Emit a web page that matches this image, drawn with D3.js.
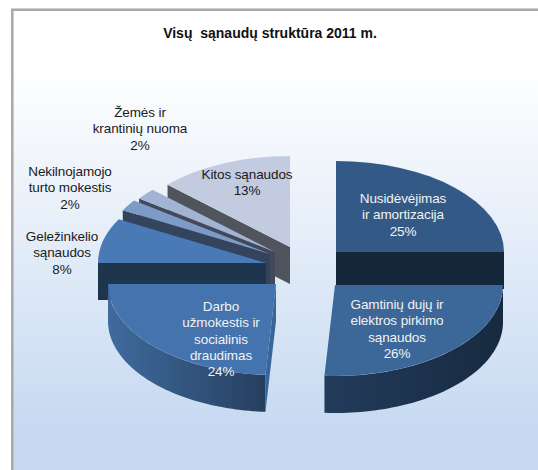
<!DOCTYPE html>
<html><head><meta charset="utf-8">
<script src="https://d3js.org/d3.v7.min.js"></script>
<style>html,body{margin:0;padding:0;background:#fff}svg{display:block}text{font-family:"Liberation Sans",Arial,sans-serif}</style>
</head><body><div id="c"></div>
<script>
const title = "Visų\u00a0 sąnaudų struktūra 2011 m.";
const categories = [
  ["Nusidėvėjimas","ir amortizacija"],
  ["Gamtinių dujų ir","elektros pirkimo","sąnaudos"],
  ["Darbo","užmokestis ir","socialinis","draudimas"],
  ["Geležinkelio","sąnaudos"],
  ["Nekilnojamojo","turto mokestis"],
  ["Žemės ir","krantinių nuoma"],
  ["Kitos sąnaudos"]
];
const values = [25,26,24,8,2,2,13];

// layout (separate from data)
const W=538,H=470,rx=168,ry=91,depth=37;
const apexX=[336,335,276,266,270,275,290];
const apexY=[252,285,284,263,254,252,247];
const labelX=[403,397,221,62,70,140,247];
const labelY=[198,304,306,236,171,112,174];
const labelFill=["#f2f2f2","#f2f2f2","#f2f2f2","#1a1a1a","#1a1a1a","#1a1a1a","#1a1a1a"];
const topFill=["#335a86","#3c6899","#4473ad","#4a7ab6","#7e9ac6","#a3b3d3","#c2cbe0"];
const edgeFill=["#14263a","#14263a","#3a659a","#1f344d","#33445c","#41495a","#50545c"];
const rimLeft=["#2a4a70","#233c5b","#3f6b9d","#1f344d","#33445c","#41495a","#50545c"];
const rimRight=["#14263a","#172a40","#263f60","#1f344d","#33445c","#41495a","#50545c"];
const drawOrder=[6,5,4,3,2,0,1];

const svg=d3.select("#c").append("svg").attr("width",W).attr("height",H);
const defs=svg.append("defs");
const bg=defs.append("linearGradient").attr("id","bg").attr("x1",0).attr("y1",0).attr("x2",0).attr("y2",1);
[[0,"#ffffff"],[0.12,"#ffffff"],[0.9,"#c6d9f1"],[1,"#c6d9f1"]].forEach(s=>bg.append("stop").attr("offset",s[0]).attr("stop-color",s[1]));
svg.append("rect").attr("x",12.3).attr("y",9.7).attr("width",W).attr("height",H)
   .attr("fill","url(#bg)").attr("stroke","#a8a8a8").attr("stroke-width",2.5);

const arcs=d3.pie().sort(null).startAngle(0).endAngle(2*Math.PI)(values);
const arcGen=d3.arc().innerRadius(0).outerRadius(rx);
const px=(i,a)=>apexX[i]+rx*Math.sin(a), py=(i,a)=>apexY[i]-ry*Math.cos(a);
const line=d3.line();
const PI=Math.PI;

values.forEach((v,i)=>{
  const g=defs.append("linearGradient").attr("id","rim"+i);
  g.append("stop").attr("offset",0).attr("stop-color",rimLeft[i]);
  g.append("stop").attr("offset",1).attr("stop-color",rimRight[i]);
});

const chart=svg.append("g");
drawOrder.forEach(i=>{
  const d=arcs[i],a0=d.startAngle,a1=d.endAngle,g=chart.append("g");
  const edge=a=>[[apexX[i],apexY[i]],[px(i,a),py(i,a)],[px(i,a),py(i,a)+depth],[apexX[i],apexY[i]+depth]];
  if(a0>PI-1e-6) g.append("path").attr("d",line(edge(a0))+"Z").attr("fill",edgeFill[i]);
  if(a1<PI) g.append("path").attr("d",line(edge(a1))+"Z").attr("fill",edgeFill[i]);
  const lo=Math.max(a0,PI/2),hi=Math.min(a1,3*PI/2);
  if(hi>lo){
    const t=d3.range(0,61).map(k=>lo+(hi-lo)*k/60);
    const pts=t.map(a=>[px(i,a),py(i,a)]).concat(t.slice().reverse().map(a=>[px(i,a),py(i,a)+depth]));
    g.append("path").attr("d",line(pts)+"Z").attr("fill","url(#rim"+i+")");
  }
  g.append("path").attr("d",arcGen(d))
   .attr("transform",`translate(${apexX[i]},${apexY[i]}) scale(1,${ry/rx})`)
   .attr("fill",topFill[i]);
});

const labels=svg.append("g").attr("text-anchor","middle").attr("font-size",13.5).attr("letter-spacing",-0.1);
categories.forEach((lines,i)=>{
  const all=lines.concat([values[i]+"%"]);
  const t=labels.append("text").attr("fill",labelFill[i]);
  all.forEach((s,k)=>t.append("tspan").attr("x",labelX[i]).attr("y",labelY[i]+5+k*16.3).text(s));
});
svg.append("text").attr("x",270).attr("y",38).attr("text-anchor","middle").attr("font-size",14).attr("font-weight","bold").attr("fill","#111").text(title);
</script></body></html>
